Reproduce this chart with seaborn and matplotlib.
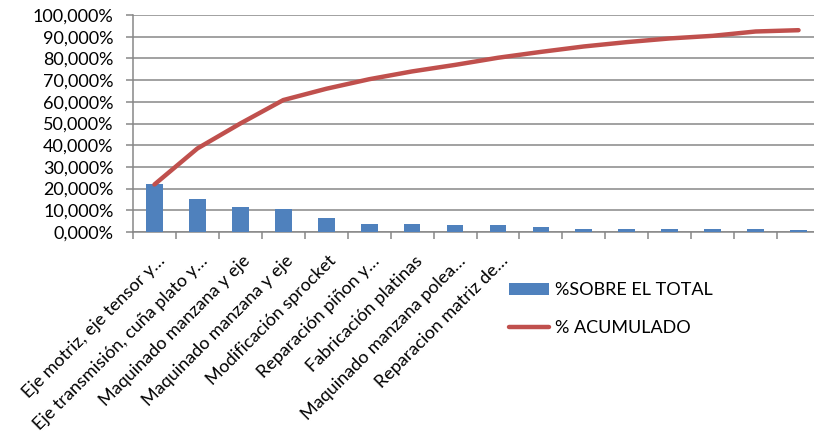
import numpy as np
import pandas as pd
import seaborn as sns
import matplotlib.pyplot as plt
from matplotlib.transforms import ScaledTranslation
from matplotlib.ticker import FuncFormatter
from matplotlib.patches import Patch
from matplotlib.lines import Line2D

# categories (only the first nine carry a label on the chart)
labels = ["Eje motriz, eje tensor y…", "Eje transmisión, cuña plato y…",
          "Maquinado manzana y eje", "Maquinado manzana y eje",
          "Modificación sprocket", "Reparación piñon y…",
          "Fabricación platinas", "Maquinado manzana polea…",
          "Reparacion matriz de…", "", "", "", "", "", "", ""]
# % sobre el total
sobre_total = [21.9, 15.4, 11.4, 10.5, 6.3, 3.9, 3.9, 3.0,
               3.0, 2.4, 1.6, 1.6, 1.6, 1.6, 1.6, 0.8]
# % acumulado
acumulado = [21.9, 38.5, 50.0, 60.8, 66.0, 70.4, 74.0, 77.0,
             80.3, 83.0, 85.5, 87.5, 89.2, 90.4, 92.4, 93.0]

oData = pd.DataFrame({"pos": np.arange(len(labels)),
                      "sobre": sobre_total, "acum": acumulado})

sns.set_style("white")
plt.rcParams['font.family'] = ['Lato', 'DejaVu Sans']
plt.rcParams['font.size'] = 13
plt.rcParams['text.color'] = "black"
plt.rcParams['xtick.color'] = "black"
plt.rcParams['ytick.color'] = "black"

fig = plt.figure(figsize=(8.14, 4.36), dpi=100)
ax = fig.add_axes([133 / 814, 1 - 232 / 436, 687 / 814, 217 / 436])

sns.barplot(data=oData, x="pos", y="sobre", color="#4F81BD", width=0.39,
            saturation=1, linewidth=0, ax=ax, zorder=3)
sns.lineplot(data=oData, x="pos", y="acum", color="#C0504D", linewidth=3.2,
             ax=ax, zorder=4)

ax.set_xlim(-0.5, len(labels) - 0.5)
ax.set_ylim(0, 100)
ax.set_yticks(np.arange(0, 101, 10))
ax.yaxis.set_major_formatter(FuncFormatter(lambda v, p: f"{v:.3f}".replace(".", ",") + "%"))
ax.yaxis.grid(True, color="#878787", linewidth=1.1, zorder=0)
ax.set_axisbelow(True)
ax.set_xlabel("")
ax.set_ylabel("")

for s in ["top", "right"]:
    ax.spines[s].set_visible(False)
for s in ["left", "bottom"]:
    ax.spines[s].set_color("#878787")
    ax.spines[s].set_linewidth(1.1)

ax.tick_params(axis="y", length=5, width=1.1, color="#878787", pad=9,
               labelsize=13, left=True, labelcolor="black")
ax.set_xticks(np.arange(len(labels)))
ax.set_xticks(np.arange(len(labels) + 1) - 0.5, minor=True)
ax.tick_params(axis="x", which="major", length=0, pad=15, labelcolor="black")
ax.tick_params(axis="x", which="minor", length=5, width=1.1, color="#878787",
               bottom=True)
ax.set_xticklabels(labels, rotation=45, ha="right", va="top",
                   rotation_mode="anchor", fontsize=13)
for lbl in ax.get_xticklabels():
    lbl.set_transform(lbl.get_transform() +
                      ScaledTranslation(0.02, 0, fig.dpi_scale_trans))

handles = [Patch(facecolor="#4F81BD", edgecolor="none"),
           Line2D([0], [0], color="#C0504D", linewidth=3.2)]
fig.legend(handles, ["%SOBRE EL TOTAL", "% ACUMULADO"],
           loc="upper left", bbox_to_anchor=(493 / 814, 1 - 266 / 436),
           frameon=False, fontsize=13, handlelength=2.2, handleheight=0.65,
           labelspacing=1.2, handletextpad=0.35)

fig.savefig("out.png", dpi=100)
